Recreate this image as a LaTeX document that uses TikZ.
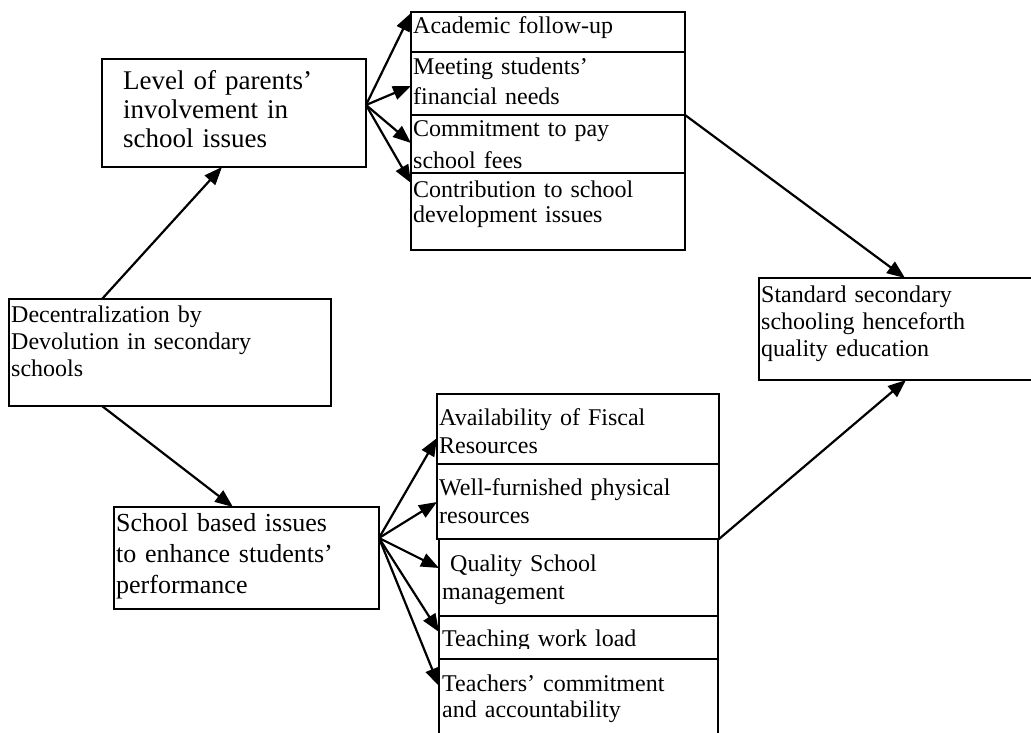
\documentclass[tikz,border=0pt]{standalone}
\usepackage{fontspec}
\setmainfont{Liberation Serif}
\usetikzlibrary{arrows.meta, calc, positioning}
\newcommand{\fsz}[2]{\fontsize{#1}{#2}\selectfont}

\begin{document}
\begin{tikzpicture}[x=1pt, y=-1pt,
    box/.style={draw, line width=1.8pt, anchor=north west, inner sep=0pt, outer sep=0pt},
    lbl/.style={anchor=base west, inner sep=0pt, align=left, text width=#1},
    lbl/.default=270pt,
    arr/.style={line width=2.2pt, -{Triangle[length=18pt, width=14pt]}}]
    \useasboundingbox (0,0) rectangle (1031,733);
    \clip (0,0) rectangle (1031,733);

    % Left column
    \node[box, minimum width=322pt, minimum height=107pt] (dec) at (9,299) {};
    \node[lbl=318pt, font=\fsz{24}{27}] (dectext) at (11,322.7) {Decentralization by\\Devolution in secondary\\schools};

    \node[box, minimum width=264pt, minimum height=108pt] (level) at (102,59) {};
    \node[lbl=240pt, font=\fsz{27}{29}] (leveltext) at (123,90) {Level of parents'\\involvement in\\school issues};

    \node[box, minimum width=265pt, minimum height=102pt] (sbi) at (114,507) {};
    \node[lbl=260pt, font=\fsz{26}{31}] (sbitext) at (116,531.7) {\makebox[222pt][s]{School based issues}\\\makebox[222pt][s]{to enhance students'}\\performance};

    % Parents' involvement items
    \node[box, minimum width=274pt, minimum height=40pt] (acad) at (411,12) {};
    \node[box, minimum width=274pt, minimum height=63pt] (meet) at (411,52) {};
    \node[box, minimum width=274pt, minimum height=58pt] (fees) at (411,115) {};
    \node[box, minimum width=274pt, minimum height=77pt] (contrib) at (411,173) {};
    \node[lbl, font=\fsz{24}{30}] (acadtext) at (413,33.3) {Academic follow-up};
    \node[lbl, font=\fsz{24}{30}] (meettext) at (413,75) {Meeting students'\\financial needs};
    \node[lbl, font=\fsz{24}{32}] (feestext) at (413,137) {Commitment to pay\\school fees};
    \node[lbl, font=\fsz{24}{25}] (contribtext) at (413,197) {Contribution to school\\development issues};

    % School based items
    \node[box, minimum width=282pt, minimum height=70pt] (fisc) at (437,394) {};
    \node[box, minimum width=282pt, minimum height=75pt] (phys) at (437,464) {};
    \node[box, minimum width=279pt, minimum height=77pt] (mgmt) at (439,539) {};
    \node[box, minimum width=279pt, minimum height=43pt] (load) at (439,616) {};
    \node[box, minimum width=279pt, minimum height=110pt] (acct) at (439,659) {};
    \node[lbl, font=\fsz{24}{28}] (fisctext) at (439,425) {Availability of Fiscal\\Resources};
    \node[lbl, font=\fsz{24}{28}] (phystext) at (439,495) {Well-furnished physical\\resources};
    \node[lbl, font=\fsz{24}{28}] (mgmttext) at (442,571.7) {~Quality School\\management};
    \begin{scope}
        \clip (439,616) rectangle (718,648);
        \node[lbl, font=\fsz{24}{28}] (loadtext) at (442,646.7) {Teaching work load};
    \end{scope}
    \node[lbl, font=\fsz{24}{26}] (accttext) at (442,691.7) {Teachers' commitment\\and accountability};

    % Outcome
    \node[box, minimum width=281pt, minimum height=102pt] (std) at (759,278) {};
    \node[lbl, font=\fsz{24}{26.7}] (stdtext) at (761,302.7) {Standard secondary\\schooling henceforth\\quality education};

    % Arrows
    \draw[arr] ($(dec.north west)+(93,0)$) -- ($(level.south west)+(120,0)$);
    \draw[arr] ($(dec.south west)+(93,0)$) -- ($(sbi.north west)+(119,0)$);

    \coordinate (lfan) at ($(level.north east)+(0,46)$);
    \foreach \t/\dy in {acad/1, meet/34, fees/28, contrib/10}
        \draw[arr] (lfan) -- ($(\t.north west)+(0,\dy)$);

    \coordinate (sfan) at ($(sbi.north east)+(0,31)$);
    \foreach \t/\dy in {fisc/44, phys/38, mgmt/29, load/16, acct/27}
        \draw[arr] (sfan) -- ($(\t.north west)+(0,\dy)$);

    \draw[arr] (fees.north east) -- ($(std.north west)+(146,0)$);
    \draw[arr] (phys.south east) -- ($(std.south west)+(147,0)$);
\end{tikzpicture}
\end{document}
